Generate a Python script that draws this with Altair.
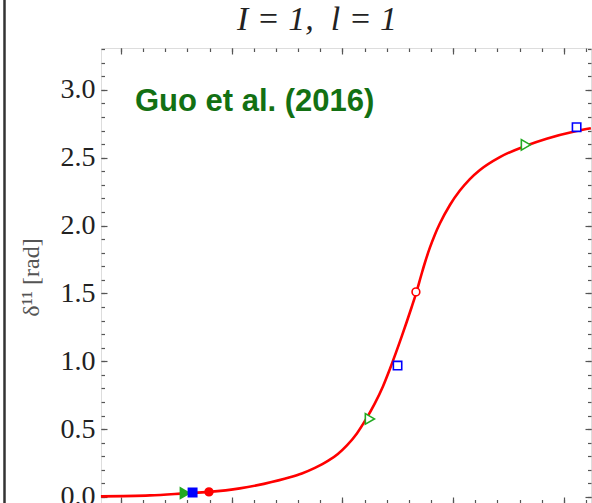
import altair as alt
import pandas as pd

# ---- data ----
curve_x = [0.819, 1.262, 1.578, 1.795, 2.074, 2.291, 2.526, 2.634, 2.752, 2.869,
           2.959, 3.041, 3.131, 3.212, 3.293, 3.366, 3.429, 3.535, 3.625, 3.664,
           3.715, 3.745, 3.790, 3.835, 3.880, 3.971, 4.061, 4.151, 4.242, 4.422,
           4.657, 4.844, 5.115, 5.244]
curve_y = [0.004, 0.011, 0.026, 0.037, 0.063, 0.096, 0.144, 0.173, 0.214, 0.265,
           0.317, 0.380, 0.468, 0.571, 0.689, 0.814, 0.943, 1.181, 1.398, 1.496,
           1.643, 1.726, 1.837, 1.933, 2.015, 2.152, 2.258, 2.343, 2.410, 2.505,
           2.588, 2.640, 2.697, 2.718]

tri_x = [1.578, 3.248, 4.657]
tri_y = [0.027, 0.575, 2.595]
tri_filled = [True, False, False]

sq_x = [1.647, 3.498, 5.115]
sq_y = [0.032, 0.968, 2.725]
sq_filled = [True, False, False]

circ_x = [1.795, 3.664]
circ_y = [0.037, 1.511]
circ_filled = [True, False]

note_x = [1.126]
note_y = [2.845]
note_text = ["Guo et al. (2016)"]

x_major = [1, 2, 3, 4, 5]
x_minor = [1.0, 1.2, 1.4, 1.6, 1.8, 2.0, 2.2, 2.4, 2.6, 2.8, 3.0, 3.2, 3.4, 3.6,
           3.8, 4.0, 4.2, 4.4, 4.6, 4.8, 5.0, 5.2]
y_major = [0.0, 0.5, 1.0, 1.5, 2.0, 2.5, 3.0]
y_minor = [0.0, 0.1, 0.2, 0.3, 0.4, 0.5, 0.6, 0.7, 0.8, 0.9, 1.0, 1.1, 1.2, 1.3,
           1.4, 1.5, 1.6, 1.7, 1.8, 1.9, 2.0, 2.1, 2.2, 2.3, 2.4, 2.5, 2.6, 2.7,
           2.8, 2.9, 3.0, 3.1, 3.2, 3.3]

X_DOM = [0.82, 5.245]
Y_DOM = [-0.045, 3.309]

curve_df = pd.DataFrame({"x": curve_x, "y": curve_y})
tri_df = pd.DataFrame({"x": tri_x, "y": tri_y, "filled": tri_filled})
sq_df = pd.DataFrame({"x": sq_x, "y": sq_y, "filled": sq_filled})
circ_df = pd.DataFrame({"x": circ_x, "y": circ_y, "filled": circ_filled})
note_df = pd.DataFrame({"x": note_x, "y": note_y, "t": note_text})

xs = alt.Scale(domain=X_DOM, nice=False, zero=False)
ys = alt.Scale(domain=Y_DOM, nice=False, zero=False)

TICK_COLOR = "#555555"


def tick_axis(orient, values, size):
    return alt.Axis(orient=orient, values=values, tickSize=size, offset=-size,
                    labels=False, domain=False, grid=False, title=None,
                    tickColor=TICK_COLOR, tickWidth=1.2)


label_axis = alt.Axis(orient="left", values=y_major, format=".1f", ticks=False,
                      tickSize=0, domain=False, grid=False, labelPadding=6,
                      labelFont="Liberation Serif", labelFontSize=28,
                      labelColor="#222222",
                      title="δ¹¹ [rad]", titleFont="Liberation Serif",
                      titleFontSize=24, titleFontWeight="normal",
                      titleColor="#555555", titleX=-70, titleY=229,
                      titleAlign="center", titleBaseline="middle", titleAngle=270)

line = alt.Chart(curve_df).mark_line(color="#ff0000", strokeWidth=2.6,
                                     interpolate="monotone").encode(
    x=alt.X("x:Q", scale=xs, axis=tick_axis("bottom", x_major, 6)),
    y=alt.Y("y:Q", scale=ys, axis=label_axis),
)


def pts(df, shape, size, color, xaxis, yaxis):
    return alt.Chart(df).mark_point(shape=shape, size=size, strokeWidth=1.6,
                                    opacity=1, stroke=color).encode(
        x=alt.X("x:Q", scale=xs, axis=xaxis),
        y=alt.Y("y:Q", scale=ys, axis=yaxis),
        fill=alt.condition("datum.filled", alt.value(color), alt.value("white")),
    )


tri = pts(tri_df, "triangle-right", 110, "#22aa22",
          tick_axis("bottom", x_minor, 3.5), tick_axis("left", y_major, 6))
sq = pts(sq_df, "square", 70, "#0000ff",
         tick_axis("top", x_major, 6), tick_axis("left", y_minor, 3.5))
circ = pts(circ_df, "circle", 60, "#ff0000",
           tick_axis("top", x_minor, 3.5), tick_axis("right", y_major, 6))

note = alt.Chart(note_df).mark_text(align="left", baseline="alphabetic",
                                    font="Liberation Sans", fontWeight="bold",
                                    fontSize=31, color="#137013").encode(
    x=alt.X("x:Q", scale=xs, axis=None),
    y=alt.Y("y:Q", scale=ys, axis=tick_axis("right", y_minor, 3.5)),
    text="t:N",
)

border = alt.Chart(note_df).mark_rule(color="#333333", strokeWidth=2.5).encode(
    x=alt.value(-96.5), y=alt.value(-48), y2=alt.value(460)
)

chart = alt.layer(line, tri, sq, circ, note, border).resolve_axis(
    x="independent", y="independent"
).properties(
    width=490, height=455,
    title=alt.TitleParams("I = 1,\u00a0 l = 1", font="Liberation Serif",
                          fontStyle="italic", fontSize=34, fontWeight="normal",
                          color="#222222", anchor="middle", dx=-29,
                          baseline="alphabetic", offset=-65),
    autosize="none",
    padding={"left": 101, "top": 48, "right": 1, "bottom": 0},
).configure_view(stroke="#555555", strokeWidth=1.5).configure(background="white")

chart.save("out.html", embed_options={"renderer": "svg", "actions": False})
